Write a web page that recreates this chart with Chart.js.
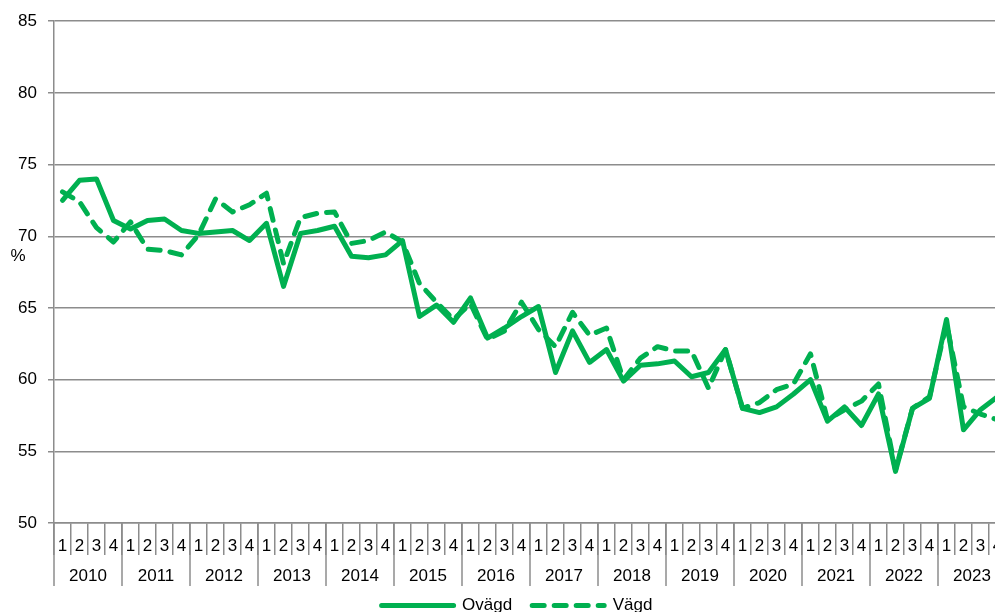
<!DOCTYPE html>
<html>
<head>
<meta charset="utf-8">
<script src="https://cdn.jsdelivr.net/npm/chart.js@4/dist/chart.umd.min.js"></script>
<style>
  html, body { margin: 0; padding: 0; background: #fff; overflow: hidden; }
  #wrap { width: 1036px; height: 624px; }
</style>
</head>
<body>
<div id="wrap"><canvas id="chart" width="1036" height="624"></canvas></div>
<script>
// Data
const years = ['2010', '2011', '2012', '2013', '2014', '2015', '2016',
               '2017', '2018', '2019', '2020', '2021', '2022', '2023'];
const quarters = ['1', '2', '3', '4'];

const ovagd = [
  72.5, 73.9, 74.0, 71.1,
  70.5, 71.1, 71.2, 70.4,
  70.2, 70.3, 70.4, 69.7,
  70.9, 66.5, 70.2, 70.4,
  70.7, 68.6, 68.5, 68.7,
  69.7, 64.4, 65.2, 64.0,
  65.7, 62.9, 63.6, 64.4,
  65.1, 60.5, 63.4, 61.2,
  62.1, 59.9, 61.0, 61.1,
  61.3, 60.2, 60.5, 62.1,
  58.0, 57.7, 58.1, 59.0,
  60.0, 57.1, 58.1, 56.8,
  59.0, 53.6, 58.0, 58.7,
  64.2, 56.5, 57.9, 58.8
];

const vagd = [
  73.1, 72.4, 70.6, 69.6,
  71.0, 69.1, 69.0, 68.7,
  70.1, 72.6, 71.7, 72.2,
  73.0, 68.1, 71.3, 71.6,
  71.7, 69.5, 69.7, 70.3,
  69.6, 66.7, 65.4, 64.2,
  65.3, 62.8, 63.4, 65.4,
  63.5, 62.3, 64.7, 63.1,
  63.6, 60.0, 61.5, 62.3,
  62.0, 62.0, 59.4, 62.1,
  58.0, 58.4, 59.3, 59.7,
  61.8, 57.2, 57.9, 58.5,
  59.7, 53.7, 58.0, 58.8,
  63.9, 58.1, 57.6, 57.2
];

const labels = years.flatMap(() => quarters);

const green = '#00b050';
const gridColor = '#8c8c8c';
const fontFamily = '"Liberation Sans", Arial, sans-serif';

// Year row under the quarter labels, plus the "%" axis label
const yearAxisPlugin = {
  id: 'yearAxis',
  afterLayout(chart) {
    // legend sits a little right of the canvas centre in the original
    chart.legend.left += 14;
    chart.legend.right += 14;
  },
  afterDraw(chart) {
    const { ctx, chartArea, scales: { x } } = chart;
    const step = x.width / labels.length;
    const bottom = chartArea.bottom;
    ctx.save();
    ctx.strokeStyle = gridColor;
    ctx.lineWidth = 1.5;
    ctx.fillStyle = '#000';
    ctx.font = '17px ' + fontFamily;
    ctx.textAlign = 'center';
    ctx.textBaseline = 'middle';
    years.forEach((yr, i) => {
      const left = x.getPixelForValue(i * 4) - step / 2;
      ctx.beginPath();
      ctx.moveTo(left, bottom);
      ctx.lineTo(left, bottom + 63);
      ctx.stroke();
      ctx.fillText(yr, left + step * 2, bottom + 53);
    });
    const end = x.getPixelForValue(labels.length - 1) + step / 2;
    ctx.beginPath();
    ctx.moveTo(end, bottom);
    ctx.lineTo(end, bottom + 63);
    ctx.stroke();

    ctx.fillText('%', 18, 256);
    ctx.restore();
  }
};

const ctx = document.getElementById('chart').getContext('2d');
new Chart(ctx, {
  type: 'line',
  data: {
    labels: labels,
    datasets: [
      {
        label: 'Ovägd',
        data: ovagd,
        borderColor: green,
        backgroundColor: green,
        borderWidth: 5,
        borderCapStyle: 'round',
        borderJoinStyle: 'round',
        pointRadius: 0,
        tension: 0
      },
      {
        label: 'Vägd',
        data: vagd,
        borderColor: green,
        backgroundColor: green,
        borderWidth: 5,
        borderDash: [12, 10],
        borderCapStyle: 'round',
        borderJoinStyle: 'round',
        pointRadius: 0,
        tension: 0
      }
    ]
  },
  options: {
    responsive: false,
    animation: false,
    layout: { padding: { top: 20, left: 0, right: 30, bottom: 0 } },
    scales: {
      x: {
        offset: true,
        grid: {
          offset: true,
          drawOnChartArea: false,
          color: gridColor,
          lineWidth: 1.5,
          tickLength: 32
        },
        border: { color: gridColor, width: 1.5 },
        ticks: {
          autoSkip: false,
          maxRotation: 0,
          padding: -19,
          color: '#000',
          font: { family: fontFamily, size: 17 }
        },
        afterFit(scale) { scale.height = 54; }
      },
      y: {
        min: 50,
        max: 85,
        ticks: {
          stepSize: 5,
          padding: 11,
          color: '#000',
          font: { family: fontFamily, size: 17 }
        },
        grid: {
          color: gridColor,
          lineWidth: 1.5,
          tickLength: 6
        },
        border: { color: gridColor, width: 1.5 },
        afterFit(scale) { scale.width = 54; }
      }
    },
    plugins: {
      legend: {
        position: 'bottom',
        labels: {
          boxWidth: 72,
          boxHeight: 0,
          padding: 20,
          color: '#000',
          font: { family: fontFamily, size: 17 }
        }
      },
      tooltip: { enabled: false }
    }
  },
  plugins: [yearAxisPlugin]
});
</script>
</body>
</html>
